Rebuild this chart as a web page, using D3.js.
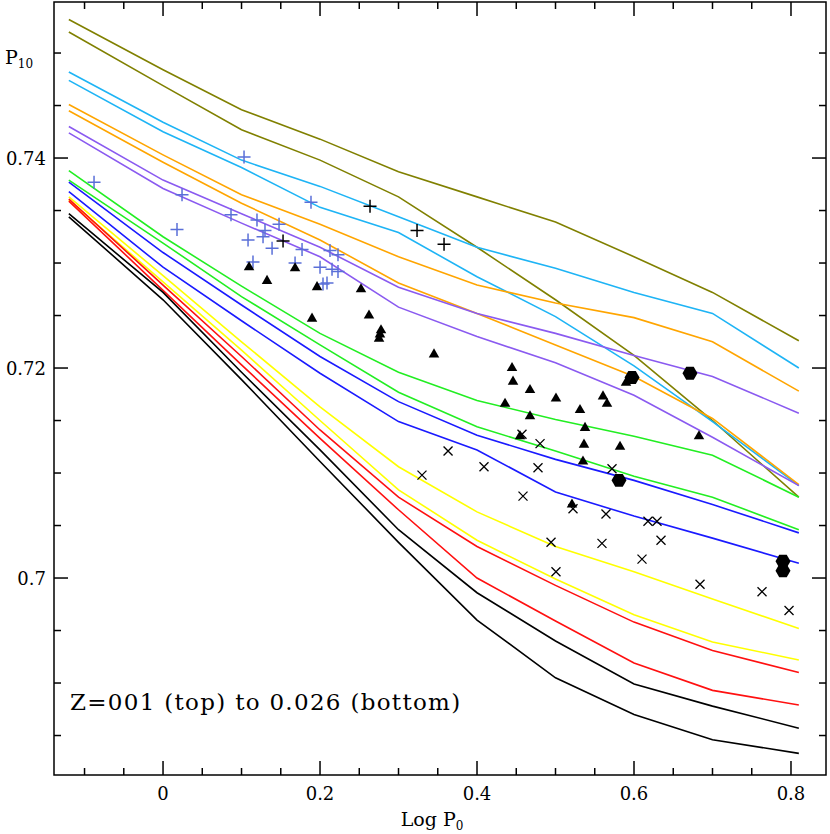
<!DOCTYPE html>
<html><head><meta charset="utf-8">
<script src="https://cdn.jsdelivr.net/npm/d3@7"></script>
<style>body{margin:0;background:#fff}text{font-family:"DejaVu Serif","Liberation Serif",serif}</style>
</head><body><svg id="c" width="830" height="834"></svg>
<script>
const logP0 = [-0.12, 0, 0.1, 0.2, 0.3, 0.4, 0.5, 0.6, 0.7, 0.81];
const olive1 = [.7532,.7484,.7446,.7418,.7387,.7363,.7339,.7306,.7272,.7226];
const olive2 = [.7520,.7469,.7427,.7398,.7363,.7315,.7265,.7212,.7150,.7077];
const sky1   = [.7482,.7434,.7398,.7373,.7344,.7315,.7295,.7272,.7252,.7200];
const sky2   = [.7474,.7425,.7391,.7353,.7329,.7287,.7249,.7202,.7149,.7088];
const orange1= [.7451,.7403,.7365,.7337,.7306,.7279,.7262,.7248,.7225,.7178];
const orange2= [.7445,.7396,.7357,.7322,.7281,.7252,.7222,.7192,.7152,.7089];
const purple1= [.7430,.7379,.7347,.7315,.7277,.7252,.7233,.7212,.7192,.7157];
const purple2= [.7424,.7371,.7338,.7306,.7258,.7230,.7205,.7174,.7134,.7088];
const green1 = [.7388,.7325,.7278,.7233,.7196,.7169,.7151,.7135,.7117,.7077];
const green2 = [.7379,.7319,.7268,.7222,.7177,.7144,.7121,.7097,.7077,.7046];
const blue1  = [.7377,.7310,.7260,.7211,.7168,.7136,.7113,.7093,.7070,.7043];
const blue2  = [.7368,.7296,.7245,.7195,.7149,.7122,.7082,.7059,.7038,.7014];
const yellow1= [.7363,.7288,.7225,.7163,.7106,.7063,.7030,.7006,.6980,.6952];
const yellow2= [.7360,.7282,.7217,.7150,.7084,.7036,.6999,.6965,.6939,.6922];
const red1   = [.7361,.7279,.7211,.7141,.7077,.7030,.6993,.6958,.6931,.6910];
const red2   = [.7359,.7274,.7203,.7133,.7065,.7000,.6959,.6919,.6893,.6879];
const black1 = [.7347,.7272,.7196,.7122,.7046,.6986,.6940,.6899,.6878,.6857];
const black2 = [.7344,.7265,.7189,.7111,.7034,.6960,.6905,.6870,.6846,.6833];
const modelSeries = [
 [olive1,"#808000"],[olive2,"#808000"],[sky1,"#1eb4f5"],[sky2,"#1eb4f5"],
 [orange1,"#ffa500"],[orange2,"#ffa500"],[purple1,"#8a5af0"],[purple2,"#8a5af0"],
 [green1,"#22ee22"],[green2,"#22ee22"],[blue1,"#1a1aff"],[blue2,"#1a1aff"],
 [yellow1,"#ffff00"],[yellow2,"#ffff00"],[red1,"#ff1010"],[red2,"#ff1010"],
 [black1,"#000"],[black2,"#000"]];

const plusBlueX=[-.0879,.0242,.0178,.1032,.0866,.1197,.1478,.1299,.1274,.1083,.1389,.1771,.1885,.2127,.2229,.1682,.1146,.2000,.2153,.2229,.2038,.2089];
const plusBlueY=[.7377,.7365,.7332,.7401,.7346,.7341,.7337,.7331,.7325,.7322,.7314,.7313,.7358,.7312,.7308,.7300,.7301,.7296,.7294,.7292,.7280,.7281];
const plusBlackX=[.1529,.2637,.3236,.3580];
const plusBlackY=[.7321,.7354,.7331,.7318];
const triX=[.1096,.1325,.1682,.1962,.2522,.1898,.2624,.2777,.2764,.2752,.3452,.4446,.4459,.4675,.5006,.4357,.5312,.5605,.5656,.4675,.5376,.5363,.4548,.5822,.5350,.5898,.6828,.5210];
const triY=[.7296,.7283,.7295,.7277,.7275,.7247,.7250,.7236,.7232,.7228,.7213,.7200,.7187,.7179,.7171,.7166,.7160,.7173,.7166,.7154,.7143,.7127,.7135,.7125,.7111,.7186,.7135,.7070];
const crossX=[.3631,.3299,.4089,.4573,.4803,.4777,.4586,.5223,.5643,.5720,.6178,.6293,.6344,.6102,.5592,.4943,.5006,.6841,.7631,.7975];
const crossY=[.7121,.7098,.7106,.7137,.7128,.7105,.7078,.7066,.7061,.7104,.7054,.7054,.7036,.7018,.7033,.7034,.7006,.6994,.6987,.6969];
const hexX=[.5975,.6713,.5809,.7898,.7898];
const hexY=[.7191,.7195,.7093,.7016,.7007];
const xTickLabels=["0","0.2","0.4","0.6","0.8"];
const yTickLabels=["0.7","0.72","0.74"];

const L=54,R=826,T=2,B=775;
const x=d3.scaleLinear().domain([-0.1389,0.8446]).range([L,R]);
const y=d3.scaleLinear().domain([0.68124,0.75486]).range([B,T]);
const svg=d3.select("#c");
const g=svg.append("g");
const line=d3.line().x((d,i)=>x(logP0[i])).y(d=>y(d));
modelSeries.forEach(([s,c])=>g.append("path").attr("d",line(s)).attr("fill","none").attr("stroke",c).attr("stroke-width",1.6));

function plus(xs,ys,col){xs.forEach((v,i)=>{const cx=x(v),cy=y(ys[i]);g.append("path").attr("d",`M${cx-6.5},${cy}H${cx+6.5}M${cx},${cy-6.5}V${cy+6.5}`).attr("stroke",col).attr("stroke-width",1.5);});}
plus(plusBlueX,plusBlueY,"#5a6fd8");plus(plusBlackX,plusBlackY,"#000");
triX.forEach((v,i)=>g.append("path").attr("d",d3.symbol(d3.symbolTriangle,48)()).attr("transform",`translate(${x(v)},${y(triY[i])})`).attr("fill","#000"));
crossX.forEach((v,i)=>{const cx=x(v),cy=y(crossY[i]);g.append("path").attr("d",`M${cx-4.5},${cy-4.5}L${cx+4.5},${cy+4.5}M${cx-4.5},${cy+4.5}L${cx+4.5},${cy-4.5}`).attr("stroke","#000").attr("stroke-width",1.3);});
hexX.forEach((v,i)=>{const cx=x(v),cy=y(hexY[i]);const pts=d3.range(6).map(k=>[cx+7.5*Math.cos(k*Math.PI/3),cy+7.5*Math.sin(k*Math.PI/3)]);g.append("polygon").attr("points",pts.map(p=>p.join(",")).join(" ")).attr("fill","#000");});

svg.append("rect").attr("x",L).attr("y",T).attr("width",R-L).attr("height",B-T).attr("fill","none").attr("stroke","#000").attr("stroke-width",1.5);
const xMaj=[0,0.2,0.4,0.6,0.8], xMin=d3.range(-0.1,0.84,0.05).filter(v=>!xMaj.some(m=>Math.abs(m-v)<1e-6));
const yMaj=[0.70,0.72,0.74], yMin=d3.range(0.685,0.755,0.005).filter(v=>!yMaj.some(m=>Math.abs(m-v)<1e-6));
const tk=svg.append("g").attr("stroke","#000").attr("stroke-width",1.5);
function tl(x1,y1,x2,y2){tk.append("line").attr("x1",x1).attr("y1",y1).attr("x2",x2).attr("y2",y2);}
xMaj.forEach(v=>{tl(x(v),B,x(v),B-14);tl(x(v),T,x(v),T+14);});
xMin.forEach(v=>{tl(x(v),B,x(v),B-7);tl(x(v),T,x(v),T+7);});
yMaj.forEach(v=>{tl(L,y(v),L+14,y(v));tl(R,y(v),R-14,y(v));});
yMin.forEach(v=>{tl(L,y(v),L+7,y(v));tl(R,y(v),R-7,y(v));});
xMaj.forEach((v,i)=>svg.append("text").attr("x",x(v)).attr("y",B+25).attr("text-anchor","middle").attr("font-size",18).text(xTickLabels[i]));
yMaj.forEach((v,i)=>svg.append("text").attr("x",46).attr("y",y(v)+7).attr("text-anchor","end").attr("font-size",18).text(yTickLabels[i]));
const xl=svg.append("text").attr("x",432).attr("y",826).attr("text-anchor","middle").attr("font-size",19);
xl.append("tspan").text("Log P");xl.append("tspan").attr("font-size",12).attr("dy",4).text("0");
const yl=svg.append("text").attr("x",5).attr("y",64).attr("font-size",19);
yl.append("tspan").text("P");yl.append("tspan").attr("font-size",12).attr("dy",4).text("10");
svg.append("text").attr("x",70).attr("y",710).attr("font-size",23).attr("letter-spacing",1.3).text("Z=001 (top) to 0.026 (bottom)");
</script></body></html>
